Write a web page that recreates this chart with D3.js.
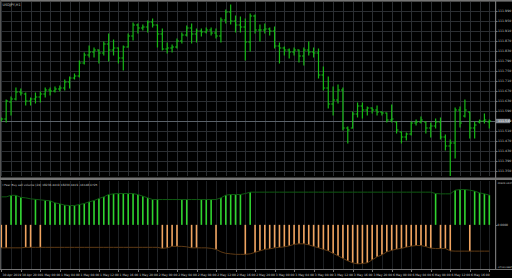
<!DOCTYPE html>
<html>
<head>
<meta charset="utf-8">
<script src="https://cdn.jsdelivr.net/npm/d3@7"></script>
<style>
  body { margin: 0; background: #000; }
  svg { display: block; }
  text { font-family: "DejaVu Sans", sans-serif; }
</style>
</head>
<body>
<svg id="chart" width="512" height="278"></svg>
<script>
// Chart text
const symbolTitle = "USDJPY,H1";
const indicatorTitle = "I Fear Buy sell volume (24) 18236.4419 18236.4419 -16148.0725";

// OHLC, one entry per hourly bar
const barOpen = [
  111.553,111.557,111.625,111.637,111.665,111.657,111.629,111.637,111.645,111.657,
  111.673,111.669,111.677,111.681,111.705,111.721,111.729,111.781,111.813,111.825,
  111.833,111.821,111.857,111.833,111.841,111.801,111.845,111.889,111.933,111.921,
  111.925,111.945,111.933,111.897,111.837,111.841,111.845,111.869,111.893,111.921,
  111.897,111.909,111.905,111.913,111.901,111.889,111.953,111.985,111.949,111.933,
  111.925,111.865,111.969,111.913,111.913,111.917,111.909,111.849,111.841,111.833,
  111.825,111.833,111.809,111.833,111.825,111.821,111.733,111.681,111.617,111.633,
  111.673,111.521,111.521,111.577,111.609,111.593,111.601,111.593,111.585,111.581,
  111.553,111.545,111.505,111.485,111.497,111.541,111.545,111.545,111.521,111.529,
  111.545,111.485,111.449,111.461,111.593,111.569,111.585,111.521,111.545,111.549,
  111.545
];
const barHigh = [
  111.561,111.633,111.645,111.681,111.677,111.661,111.641,111.661,111.665,111.681,
  111.681,111.685,111.689,111.713,111.725,111.737,111.789,111.821,111.849,111.841,
  111.833,111.865,111.897,111.873,111.841,111.849,111.897,111.941,111.937,111.933,
  111.949,111.957,111.933,111.917,111.861,111.853,111.877,111.901,111.929,111.937,
  111.917,111.917,111.921,111.921,111.917,111.961,111.993,112.013,111.969,111.965,
  111.957,111.977,111.973,111.933,111.937,111.921,111.925,111.861,111.845,111.837,
  111.841,111.833,111.841,111.865,111.841,111.837,111.765,111.725,111.685,111.693,
  111.681,111.525,111.585,111.621,111.621,111.605,111.601,111.609,111.585,111.581,
  111.613,111.545,111.505,111.501,111.545,111.553,111.565,111.545,111.541,111.557,
  111.561,111.493,111.473,111.601,111.605,111.633,111.585,111.545,111.553,111.577,
  111.553
];
const barLow = [
  111.549,111.545,111.573,111.633,111.653,111.613,111.613,111.621,111.625,111.645,
  111.653,111.665,111.669,111.673,111.681,111.717,111.725,111.777,111.805,111.805,
  111.781,111.813,111.789,111.813,111.781,111.753,111.845,111.873,111.901,111.913,
  111.905,111.925,111.845,111.833,111.821,111.825,111.841,111.861,111.889,111.861,
  111.865,111.889,111.901,111.893,111.881,111.865,111.941,111.937,111.905,111.905,
  111.793,111.829,111.901,111.869,111.901,111.893,111.841,111.781,111.813,111.801,
  111.813,111.785,111.773,111.813,111.805,111.721,111.673,111.601,111.573,111.621,
  111.513,111.461,111.521,111.565,111.561,111.573,111.581,111.573,111.573,111.545,
  111.545,111.501,111.461,111.473,111.493,111.533,111.541,111.501,111.485,111.521,
  111.477,111.433,111.321,111.401,111.525,111.565,111.481,111.481,111.541,111.541,
  111.521
];
const barClose = [
  111.557,111.629,111.637,111.665,111.661,111.629,111.637,111.645,111.657,111.673,
  111.669,111.677,111.681,111.705,111.721,111.729,111.781,111.813,111.825,111.833,
  111.821,111.857,111.833,111.841,111.801,111.845,111.889,111.933,111.921,111.925,
  111.945,111.933,111.897,111.837,111.841,111.845,111.869,111.893,111.921,111.897,
  111.909,111.905,111.913,111.901,111.889,111.953,111.985,111.949,111.933,111.925,
  111.865,111.969,111.913,111.913,111.917,111.909,111.849,111.841,111.833,111.825,
  111.833,111.809,111.833,111.825,111.821,111.733,111.681,111.617,111.633,111.673,
  111.521,111.513,111.577,111.609,111.593,111.601,111.593,111.585,111.581,111.553,
  111.557,111.513,111.485,111.497,111.541,111.545,111.553,111.521,111.529,111.545,
  111.485,111.449,111.461,111.593,111.541,111.593,111.521,111.533,111.549,111.553,
  111.549
];
const lastPrice = 111.549;

// Indicator buffers
const buyVolume = [
  17192,17192,18113,18113,16885,16578,15964,15657,15350,15043,
  14736,13508,12894,12096,11850,11850,12464,13078,14122,14920,
  16148,17192,18604,19034,19218,19218,19218,19218,18604,17622,
  16578,15534,15534,15534,15534,15541,15528,15534,15530,15537,
  15534,15532,15536,15534,15534,16578,18236,18604,18604,18604,
  19218,20078,20078,20081,20075,20078,20084,20078,20072,20078,
  20078,20080,20076,20078,20083,20078,20078,20074,20078,20079,
  20078,20082,20078,20076,20078,20078,20081,20078,20077,20078,
  20078,20080,20078,20075,20078,20078,20082,20078,20078,19218,
  19034,19034,19034,21306,21674,21674,21306,20692,19648,19034,
  18236
];
const sellVolume = [
  -14122,-14122,-14122,-14122,-14122,-13815,-13815,-13815,-13815,-13815,
  -13815,-13815,-13815,-13815,-13815,-13815,-13815,-13815,-13815,-13815,
  -13815,-13815,-13815,-13815,-13815,-13815,-13815,-13815,-13815,-13815,
  -13815,-13815,-13815,-14429,-14122,-13201,-13201,-13201,-13508,-14122,
  -14122,-14122,-14122,-14429,-15043,-16578,-17499,-17806,-18113,-18113,
  -18113,-17806,-16885,-15964,-15043,-14736,-14122,-13815,-13508,-12894,
  -11973,-11666,-11666,-12280,-13201,-14122,-15043,-15964,-17499,-19034,
  -20569,-22104,-23332,-23946,-23762,-23332,-21490,-19648,-18420,-16578,
  -15657,-14920,-14429,-13692,-13078,-12710,-12710,-13385,-14306,-14552,
  -14552,-14552,-15964,-16148,-16148,-16148,-16148,-16148,-16148,-16148,
  -16148
];
// which side the histogram shows on each bar: B = buy, S = sell
const histSide = (
  "SSBBBSSBSB" + "BBBBBBBBBB" + "BBBBBBBBBB" + "BBBSSSSBBS" + "SBBBSBBBBB" +
  "SBSSSSSSSS" + "SSSSSSSSSS" + "SSSSSSSSSS" + "SSSSSSSSSB" + "SSSBBBSBBB" + "B"
).split("");

// Axis labels
const priceTicks = [111.990,111.950,111.910,111.870,111.830,111.790,111.750,111.710,
  111.670,111.630,111.590,111.550,111.510,111.470,111.430,111.390,111.350];
const indicatorMax = 26924.0427;
const indicatorMin = -27121.3887;
const timeLabels = [
  "30 Apr 2019","30 Apr 20:00","1 May 00:00","1 May 04:00","1 May 08:00","1 May 12:00",
  "1 May 16:00","1 May 20:00","2 May 00:00","2 May 04:00","2 May 08:00","2 May 12:00",
  "2 May 16:00","2 May 20:00","3 May 00:00","3 May 04:00","3 May 08:00","3 May 12:00",
  "3 May 16:00","3 May 20:00","6 May 00:00","6 May 04:00","6 May 08:00","6 May 12:00",
  "6 May 16:00","6 May 20:00"
];
const labelEvery = 4;

// Layout
const plotRight = 495.5;
const mainTop = 2, mainBottom = 176;
const indTop = 181, indBottom = 269;
const gridColor = "#2b2e32";
const borderColor = "#747474";
const textColor = "#c9c9c9";
const barColor = "#16b816";

const svg = d3.select("#chart");
const n = barOpen.length;

const x = d3.scaleLinear().domain([0, n - 1]).range([1.3, 489.3]);
const y = d3.scaleLinear().domain([111.329, 112.025]).range([mainBottom, mainTop]);
const yInd = d3.scaleLinear().domain([indicatorMin, indicatorMax]).range([indBottom, indTop]);

svg.append("rect").attr("width", 512).attr("height", 278).attr("fill", "#000");

const defs = svg.append("defs");
defs.append("clipPath").attr("id", "clipMain")
  .append("rect").attr("x", 0).attr("y", mainTop).attr("width", plotRight).attr("height", mainBottom - mainTop);
defs.append("clipPath").attr("id", "clipInd")
  .append("rect").attr("x", 0).attr("y", indTop).attr("width", plotRight).attr("height", indBottom - indTop);

// Grid
const evenBars = d3.range(0, n, 2);
const grid = svg.append("g").attr("stroke", gridColor).attr("stroke-width", 1);
grid.selectAll(".hgrid")
  .data(priceTicks)
  .join("line")
  .attr("x1", 0).attr("x2", plotRight)
  .attr("y1", d => Math.round(y(d)) + 0.5).attr("y2", d => Math.round(y(d)) + 0.5);
grid.selectAll(".vgrid-main")
  .data(evenBars)
  .join("line")
  .attr("x1", d => Math.round(x(d)) + 0.5).attr("x2", d => Math.round(x(d)) + 0.5)
  .attr("y1", mainTop).attr("y2", mainBottom);
svg.append("g").attr("stroke", "#1e2124").attr("stroke-width", 1)
  .selectAll("line")
  .data(evenBars)
  .join("line")
  .attr("x1", d => Math.round(x(d)) + 0.5).attr("x2", d => Math.round(x(d)) + 0.5)
  .attr("y1", indTop).attr("y2", indBottom);

// Current price line
svg.append("line")
  .attr("x1", 0).attr("x2", plotRight)
  .attr("y1", Math.round(y(lastPrice)) + 0.5).attr("y2", Math.round(y(lastPrice)) + 0.5)
  .attr("stroke", "#5b6269").attr("stroke-width", 1);

// OHLC bars
const bars = svg.append("g").attr("clip-path", "url(#clipMain)")
  .attr("stroke", barColor).attr("stroke-width", 1.2);
const idx = d3.range(n);
bars.selectAll(".hl")
  .data(idx)
  .join("line")
  .attr("x1", i => x(i)).attr("x2", i => x(i))
  .attr("y1", i => y(barHigh[i]) - 0.5).attr("y2", i => y(barLow[i]) + 0.5);
bars.selectAll(".op")
  .data(idx)
  .join("line")
  .attr("x1", i => x(i) - 1.9).attr("x2", i => x(i))
  .attr("y1", i => y(barOpen[i])).attr("y2", i => y(barOpen[i]));
bars.selectAll(".cl")
  .data(idx)
  .join("line")
  .attr("x1", i => x(i)).attr("x2", i => x(i) + 1.9)
  .attr("y1", i => y(barClose[i])).attr("y2", i => y(barClose[i]));

// Indicator histogram + lines
const ind = svg.append("g").attr("clip-path", "url(#clipInd)");
const y0 = yInd(0);
ind.selectAll(".hist")
  .data(idx)
  .join("rect")
  .attr("x", i => x(i) - 0.8)
  .attr("width", 1.6)
  .attr("y", i => histSide[i] === "B" ? yInd(buyVolume[i]) : y0)
  .attr("height", i => histSide[i] === "B" ? y0 - yInd(buyVolume[i]) : yInd(sellVolume[i]) - y0)
  .attr("fill", i => histSide[i] === "B" ? "#2fd42f" : "#f0a460");

ind.append("path")
  .datum(idx)
  .attr("fill", "none")
  .attr("stroke", "#0f5a12")
  .attr("stroke-width", 1)
  .attr("d", d3.line().x(i => x(i)).y(i => yInd(buyVolume[i])));
ind.append("path")
  .datum(idx)
  .attr("fill", "none")
  .attr("stroke", "#5e3a14")
  .attr("stroke-width", 1)
  .attr("d", d3.line().x(i => x(i)).y(i => yInd(sellVolume[i])));

// Borders
svg.append("rect").attr("x", 0).attr("y", 0).attr("width", 512).attr("height", 1.6).attr("fill", borderColor);
svg.append("rect").attr("x", 0).attr("y", 0).attr("width", 1).attr("height", indBottom + 1).attr("fill", "#555");
svg.append("rect").attr("x", 0).attr("y", 177.5).attr("width", 512).attr("height", 2.5).attr("fill", borderColor);
svg.append("rect").attr("x", 0).attr("y", indBottom).attr("width", 512).attr("height", 1).attr("fill", borderColor);
svg.append("rect").attr("x", plotRight - 0.5).attr("y", 0).attr("width", 1.2).attr("height", indBottom + 1).attr("fill", borderColor);

// Right price axis
const axisG = svg.append("g");
axisG.selectAll(".ptick")
  .data(priceTicks)
  .join("line")
  .attr("x1", plotRight).attr("x2", plotRight + 2)
  .attr("y1", d => Math.round(y(d)) + 0.5).attr("y2", d => Math.round(y(d)) + 0.5)
  .attr("stroke", borderColor);
axisG.selectAll(".plabel")
  .data(priceTicks.filter(d => Math.abs(y(d) - y(lastPrice)) > 4))
  .join("text")
  .attr("x", plotRight + 2.5)
  .attr("y", d => y(d) + 1.1)
  .attr("font-size", 3.2)
  .attr("fill", textColor)
  .text(d => d.toFixed(3));

// Current price label
axisG.append("rect")
  .attr("x", plotRight + 0.5).attr("y", y(lastPrice) - 2.2)
  .attr("width", 14).attr("height", 4.4)
  .attr("fill", "#7c838c");
axisG.append("text")
  .attr("x", plotRight + 2.5).attr("y", y(lastPrice) + 1.1)
  .attr("font-size", 3.2).attr("fill", "#fff")
  .text(lastPrice.toFixed(3));

// Indicator axis labels
const indLabels = [
  { v: indicatorMax, text: indicatorMax.toFixed(4), dy: 3.2, size: 2.5 },
  { v: 0, text: "0.0000", dy: 1.1, size: 3 },
  { v: indicatorMin, text: indicatorMin.toFixed(4), dy: -0.8, size: 2.3 }
];
axisG.selectAll(".ilabel")
  .data(indLabels)
  .join("text")
  .attr("x", plotRight + 2)
  .attr("y", d => yInd(d.v) + d.dy)
  .attr("font-size", d => d.size)
  .attr("fill", textColor)
  .text(d => d.text);
axisG.append("line")
  .attr("x1", plotRight).attr("x2", plotRight + 2)
  .attr("y1", Math.round(y0) + 0.5).attr("y2", Math.round(y0) + 0.5)
  .attr("stroke", borderColor);

// Bottom time axis
const timeIdx = timeLabels.map((t, k) => k * labelEvery);
const timeG = svg.append("g");
timeG.selectAll("line")
  .data(timeIdx)
  .join("line")
  .attr("x1", i => Math.round(x(i)) + 0.5).attr("x2", i => Math.round(x(i)) + 0.5)
  .attr("y1", indBottom + 1).attr("y2", indBottom + 3)
  .attr("stroke", borderColor);
timeG.selectAll("text")
  .data(timeIdx.filter(i => x(i) + 16 < plotRight))
  .join("text")
  .attr("x", i => x(i) + 1.2)
  .attr("y", 275.5)
  .attr("font-size", 3)
  .attr("fill", textColor)
  .text(i => timeLabels[i / labelEvery]);

// Titles
svg.append("text")
  .attr("x", 2.5).attr("y", 6)
  .attr("font-size", 3.4)
  .attr("fill", textColor)
  .text(symbolTitle);
svg.append("text")
  .attr("x", 2.5).attr("y", 185.5)
  .attr("font-size", 2.9)
  .attr("fill", textColor)
  .text(indicatorTitle);
</script>
</body>
</html>
